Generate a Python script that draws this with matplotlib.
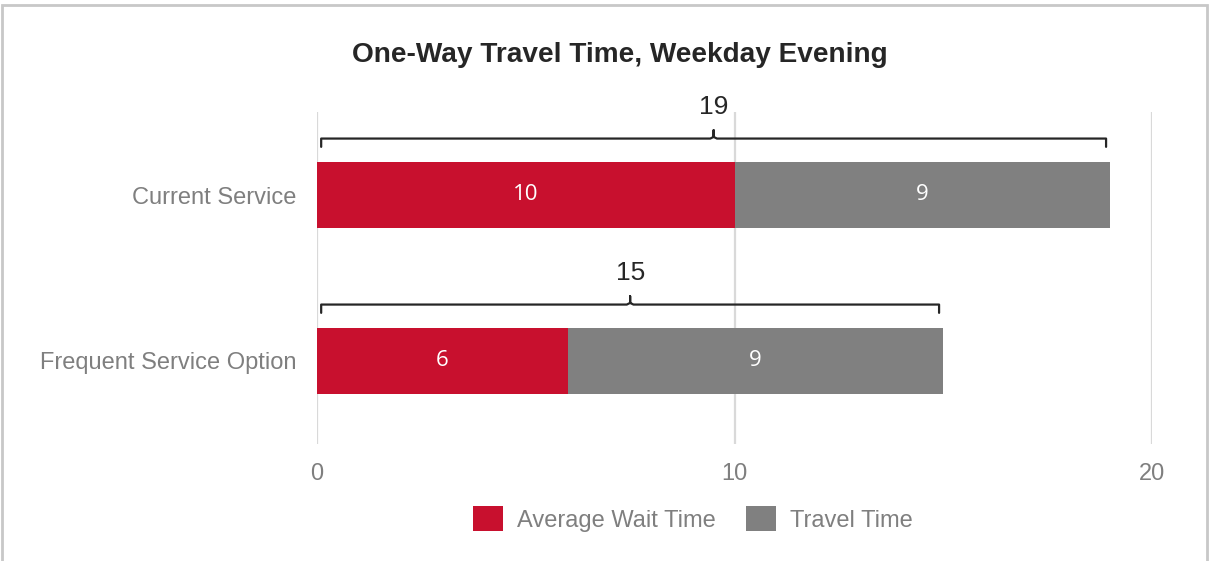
import numpy as np
import matplotlib.pyplot as plt
from matplotlib.patches import Rectangle

categories = ['Current Service', 'Frequent Service Option']
wait_time = [10, 6]
travel_time = [9, 9]
series_names = ['Average Wait Time', 'Travel Time']
x_ticks = [0, 10, 20]

red = '#C8102E'
gray = '#808080'
label_gray = '#7f7f7f'
dark = '#262626'

plt.rcParams['font.family'] = ['Liberation Sans', 'DejaVu Sans']

fig = plt.figure(figsize=(12.1, 5.61), dpi=100)
ax = fig.add_axes([317 / 1210, 1 - 444 / 561, (1152 - 317) / 1210, (444 - 112) / 561])

y = np.arange(len(categories))
wait = np.array(wait_time)
travel = np.array(travel_time)
total = wait + travel

ax.barh(y, wait, height=0.4, color=red, label=series_names[0], zorder=3)
ax.barh(y, travel, left=wait, height=0.4, color=gray, label=series_names[1], zorder=3)

# value labels inside segments
for i in range(len(categories)):
    ax.text(wait[i] / 2, y[i], str(wait[i]), ha='center', va='center',
            color='white', fontsize=16, family=['Open Sans', 'DejaVu Sans'], zorder=4)
    ax.text(wait[i] + travel[i] / 2, y[i], str(travel[i]), ha='center', va='center',
            color='white', fontsize=16, family=['Open Sans', 'DejaVu Sans'], zorder=4)

# brackets with totals
for i in range(len(categories)):
    x0, x1 = 0.1, total[i] - 0.1
    xm = total[i] / 2
    yl = y[i] - 0.34
    ax.plot([x0, x0, xm - 0.08, xm, xm, xm, xm + 0.08, x1, x1],
            [yl + 0.05, yl, yl, yl - 0.01, yl - 0.05, yl - 0.01, yl, yl, yl + 0.05],
            color=dark, lw=1.6, solid_joinstyle='round', solid_capstyle='round',
            clip_on=False, zorder=4)
    ax.text(xm, y[i] - 0.53, str(total[i]), ha='center', va='center',
            fontsize=19, color=dark)

ax.set_xlim(0, 20)
ax.set_ylim(1.5, -0.5)
ax.set_xticks(x_ticks)
ax.set_xticklabels([str(t) for t in x_ticks])
ax.set_yticks(y)
ax.set_yticklabels(categories)
ax.tick_params(axis='both', length=0, labelsize=17, labelcolor=label_gray)
ax.tick_params(axis='y', pad=15)
ax.tick_params(axis='x', pad=14)
ax.grid(axis='x', color='#d9d9d9', lw=1.6, zorder=0)
ax.set_axisbelow(True)
for s in ax.spines.values():
    s.set_visible(False)

fig.text(620 / 1210, 1 - 55 / 561, 'One-Way Travel Time, Weekday Evening',
         ha='center', va='center', fontsize=20.2, fontweight='bold', color=dark)

leg = fig.legend(loc='center', bbox_to_anchor=(693 / 1210, 1 - 519 / 561), ncol=2,
                 frameon=False, fontsize=17, handlelength=1.27, handleheight=1.27,
                 handletextpad=0.6, columnspacing=1.3)
for t in leg.get_texts():
    t.set_color(label_gray)

# chart border
fig.patches.append(Rectangle((2 / 1210, -0.01), 1205 / 1210, 1.01 - 5 / 561,
                             transform=fig.transFigure, fill=False,
                             edgecolor='#c8c8c8', lw=2))

fig.savefig('out.png', dpi=100)
